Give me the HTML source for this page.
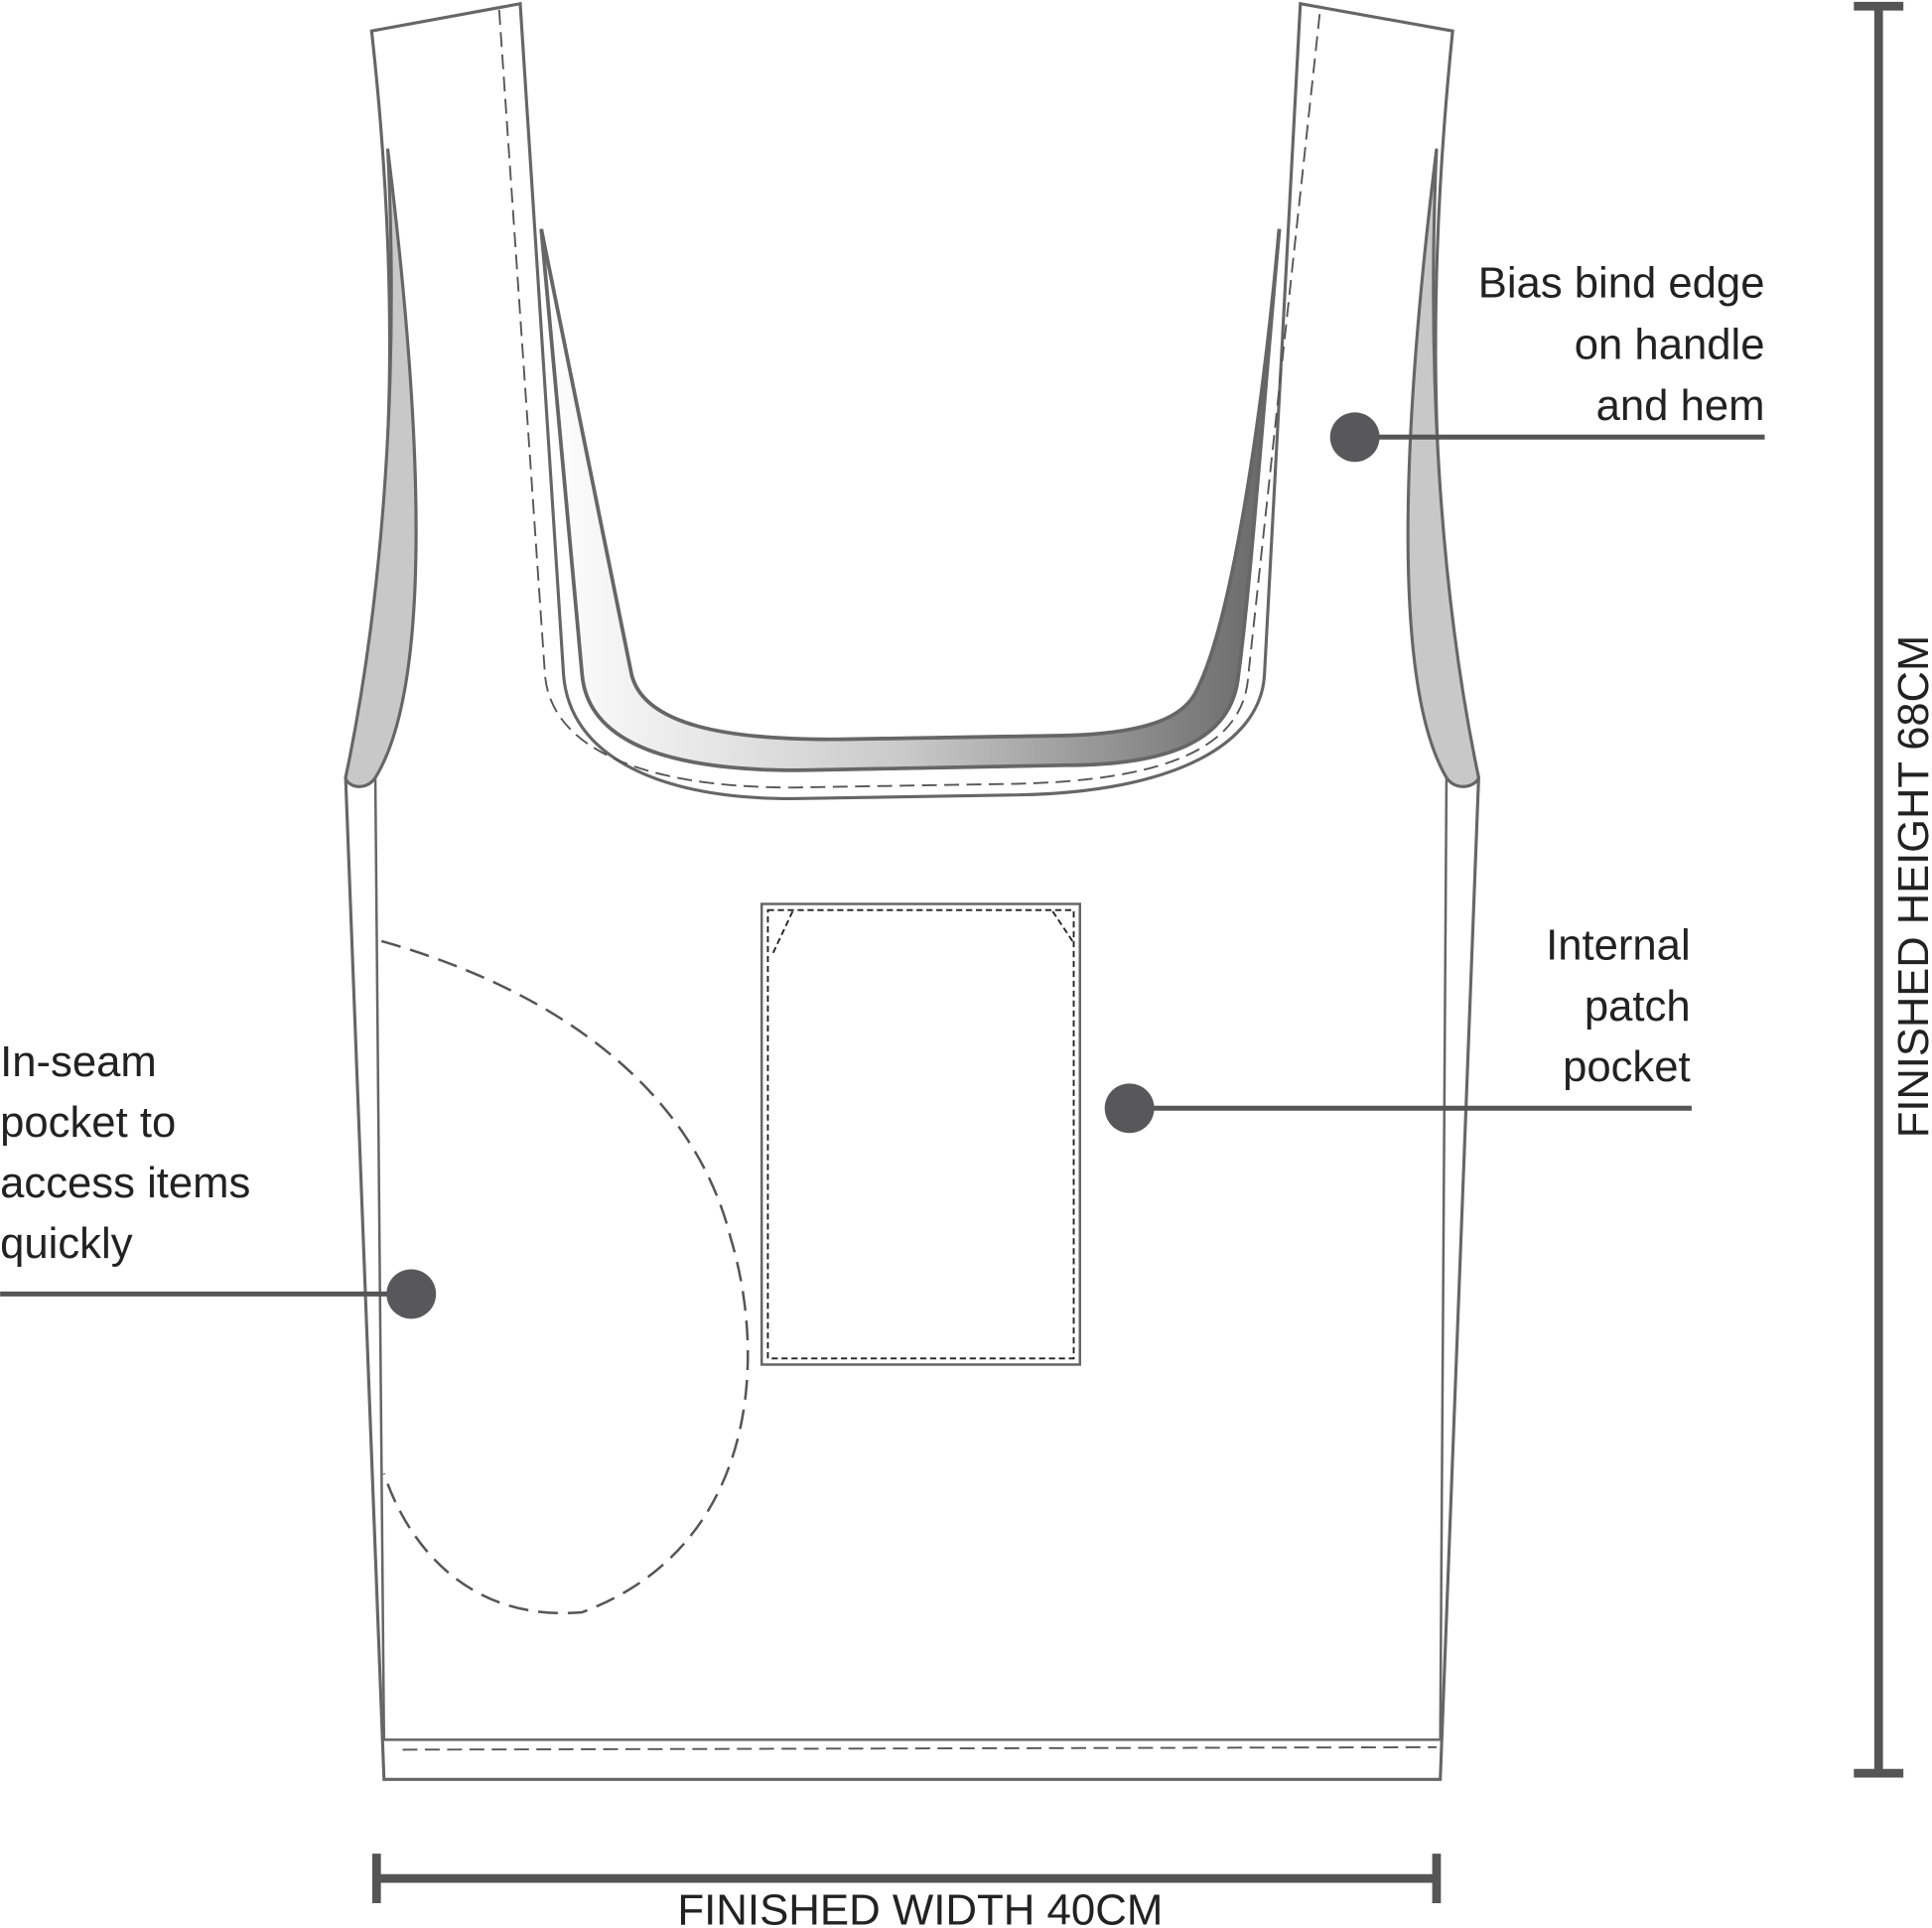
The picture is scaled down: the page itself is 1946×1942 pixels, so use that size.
<!DOCTYPE html>
<html><head><meta charset="utf-8"><style>
html,body{margin:0;padding:0;background:#fff;}
svg{display:block;}
text{font-family:"Liberation Sans",sans-serif;fill:#222;}
</style></head><body>
<svg width="1946" height="1942" viewBox="0 0 1560 1557" xmlns="http://www.w3.org/2000/svg">
<defs>
<linearGradient id="g" x1="0" x2="1" y1="0" y2="0">
<stop offset="0" stop-color="#ffffff"/><stop offset="0.5" stop-color="#c8c8c8"/><stop offset="1" stop-color="#666"/>
</linearGradient>
</defs>
<g fill="none" stroke="#666" stroke-width="2.5">
<!-- outer body -->
<path d="M300,25 L420,3 L455,545 C460,610 530,645 640,645 L820,642 C950,640 1018,600 1021,545 L1050,3 L1173,25 C1150,250 1155,450 1194,628 L1163,1437 L310,1437 L279,628 C318,450 325,250 300,25Z" fill="#fff"/>
<!-- grey side panels -->
<path d="M313,120 C345,380 345,560 303,628 C295,640 280,635 279,628 C310,480 322,300 313,120Z" fill="#c8c8c8"/>
<path d="M1160,120 C1128,380 1128,560 1168,628 C1176,640 1192,635 1194,628 C1163,480 1152,300 1160,120Z" fill="#c8c8c8"/>
<!-- band -->
<path d="M437,185 L510,545 C520,585 585,598 680,597 L860,594 C930,592 955,578 965,560 C995,505 1020,330 1033,185 C1020,330 1010,470 1000,545 C995,600 940,618 860,618 L650,622 C540,623 475,600 470,545Z" fill="url(#g)"/>
<path d="M437,185 L470,545 C475,600 540,623 650,622 L860,618 C940,618 995,600 1000,545 C1010,470 1020,330 1033,185" stroke-width="3"/>
<path d="M437,185 L510,545 C520,585 585,598 680,597 L860,594 C930,592 955,578 965,560 C995,505 1020,330 1033,185" stroke-width="3"/>
<!-- inner side lines -->
<path d="M303,628 L310,1405" stroke-width="2"/>
<path d="M1168,628 L1163,1405" stroke-width="2"/>
<path d="M310,1405 L1163,1405" stroke-width="2"/>
</g>
<g fill="none" stroke="#555" stroke-width="1.5" stroke-dasharray="12 6">
<path d="M403,8 L440,545 C445,605 520,636 640,636 L820,633 C950,630 1005,600 1008,545 L1066,8"/>
<path d="M325,1413 L1160,1411"/>
</g>
<!-- patch pocket -->
<rect x="615" y="730" width="257" height="372" fill="#fff" stroke="#666" stroke-width="2"/>
<rect x="620" y="735" width="247" height="362" fill="none" stroke="#222" stroke-width="1.5" stroke-dasharray="5 3"/>
<path d="M640,736 L624,770 M850,736 L866,760" stroke="#222" stroke-width="1.5" stroke-dasharray="5 3"/>
<!-- inseam pocket -->
<path d="M308,760 C450,800 560,880 590,1000 C620,1100 610,1250 470,1302 C380,1310 330,1250 310,1190" fill="none" stroke="#555" stroke-width="2" stroke-dasharray="16 8"/>
<!-- callouts -->
<g stroke="#555" stroke-width="4">
<line x1="0" y1="1045" x2="332" y2="1045"/>
<line x1="912" y1="895" x2="1366" y2="895"/>
<line x1="1094" y1="353" x2="1425" y2="353"/>
</g>
<g fill="#58585a"><circle cx="332" cy="1045" r="20"/><circle cx="912" cy="895" r="20"/><circle cx="1094" cy="353" r="20"/></g>
<!-- dimensions -->
<g stroke="#555" stroke-width="7">
<line x1="1517" y1="5" x2="1517" y2="1432"/><line x1="1497" y1="5" x2="1537" y2="5"/><line x1="1497" y1="1432" x2="1537" y2="1432"/>
<line x1="304" y1="1517" x2="1160" y2="1517"/><line x1="304" y1="1497" x2="304" y2="1537"/><line x1="1160" y1="1497" x2="1160" y2="1537"/>
</g>
<g font-size="35">
<text x="1425" y="240" text-anchor="end">Bias bind edge</text>
<text x="1425" y="290" text-anchor="end">on handle</text>
<text x="1425" y="339" text-anchor="end">and hem</text>
<text x="1365" y="775" text-anchor="end">Internal</text>
<text x="1365" y="824" text-anchor="end">patch</text>
<text x="1365" y="873" text-anchor="end">pocket</text>
<text x="0" y="869">In-seam</text>
<text x="0" y="918">pocket to</text>
<text x="0" y="967">access items</text>
<text x="0" y="1016">quickly</text>
<text x="743" y="1554" text-anchor="middle" textLength="392" lengthAdjust="spacingAndGlyphs">FINISHED WIDTH 40CM</text>
<text transform="translate(1557,716) rotate(-90)" text-anchor="middle" textLength="406" lengthAdjust="spacingAndGlyphs">FINISHED HEIGHT 68CM</text>
</g>
</svg>
</body></html>
